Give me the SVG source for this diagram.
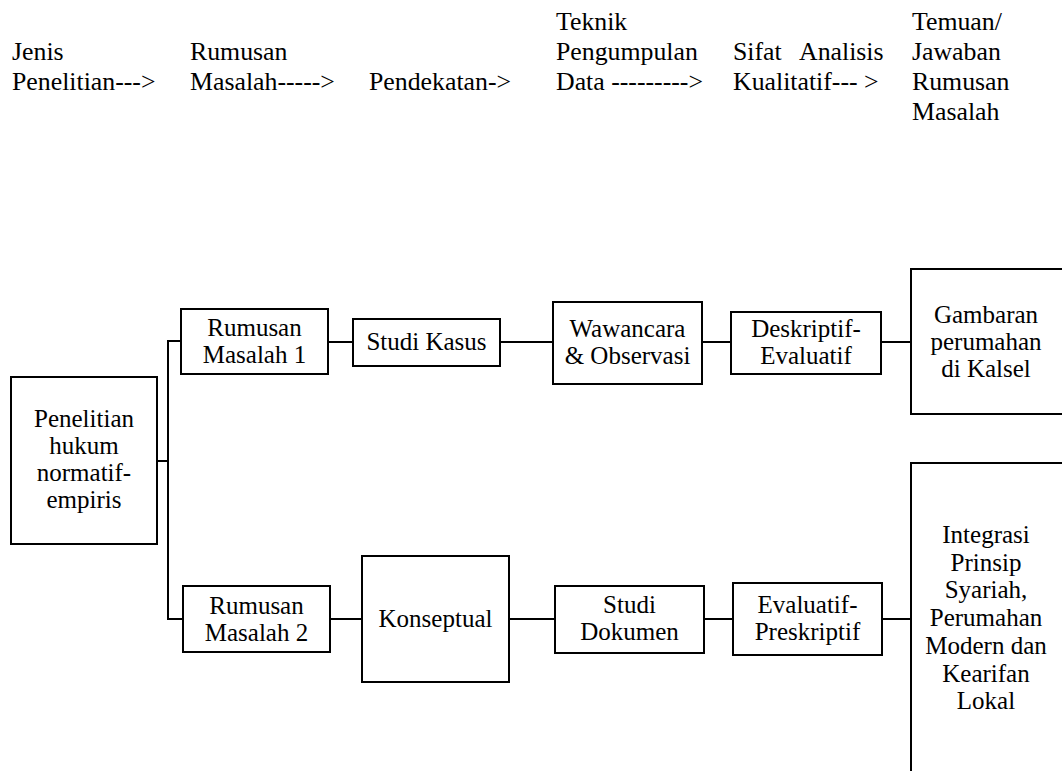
<svg xmlns="http://www.w3.org/2000/svg" width="1062" height="771" viewBox="0 0 1062 771">
<style>
text { font-family: "Liberation Serif", "Times New Roman", serif; fill: #000; }
.h { font-size: 25.8px; }
.b { font-size: 25px; text-anchor: middle; }
rect { fill: #fff; stroke: #000; stroke-width: 2; }
.c line { stroke: #000; stroke-width: 2; }
</style>
<rect x="0" y="0" width="1062" height="771" style="stroke:none;fill:#fff"/>
<g id="header">
<text class="h" x="12" y="60">Jenis</text>
<text class="h" x="12" y="90">Penelitian---&gt;</text>
<text class="h" x="190" y="60">Rumusan</text>
<text class="h" x="190" y="90">Masalah-----&gt;</text>
<text class="h" x="369" y="90">Pendekatan-&gt;</text>
<text class="h" x="556" y="30">Teknik</text>
<text class="h" x="556" y="60">Pengumpulan</text>
<text class="h" x="556" y="90">Data ---------&gt;</text>
<text class="h" x="733" y="60">Sifat</text>
<text class="h" x="799" y="60">Analisis</text>
<text class="h" x="733" y="90">Kualitatif--- &gt;</text>
<text class="h" x="912" y="30">Temuan/</text>
<text class="h" x="912" y="60">Jawaban</text>
<text class="h" x="912" y="90">Rumusan</text>
<text class="h" x="912" y="120">Masalah</text>
</g>
<g class="c" id="connectors">
<line x1="157" y1="461" x2="168" y2="461"/>
<line x1="168" y1="340" x2="168" y2="620"/>
<line x1="167" y1="341" x2="181" y2="341"/>
<line x1="167" y1="619" x2="183" y2="619"/>
<line x1="328" y1="342" x2="353" y2="342"/>
<line x1="500" y1="342" x2="553" y2="342"/>
<line x1="702" y1="342" x2="731" y2="342"/>
<line x1="881" y1="342" x2="911" y2="342"/>
<line x1="330" y1="619" x2="362" y2="619"/>
<line x1="509" y1="619" x2="555" y2="619"/>
<line x1="704" y1="619" x2="733" y2="619"/>
<line x1="882" y1="619" x2="911" y2="619"/>
</g>
<g id="n-penelitian">
<rect x="11" y="377" width="146" height="167"/>
<text class="b" x="84" y="426.5">Penelitian</text>
<text class="b" x="84" y="453.5">hukum</text>
<text class="b" x="84" y="480.5">normatif-</text>
<text class="b" x="84" y="507.5">empiris</text>
</g>
<g id="n-rm1">
<rect x="181" y="309" width="147" height="65"/>
<text class="b" x="254.5" y="336">Rumusan</text>
<text class="b" x="254.5" y="362.7">Masalah 1</text>
</g>
<g id="n-studikasus">
<rect x="353" y="319" width="147" height="47"/>
<text class="b" x="426.5" y="350">Studi Kasus</text>
</g>
<g id="n-wawancara">
<rect x="553" y="302" width="149" height="82"/>
<text class="b" x="627.5" y="336.7">Wawancara</text>
<text class="b" x="627.5" y="364">&amp; Observasi</text>
</g>
<g id="n-deskriptif">
<rect x="731" y="312" width="150" height="62"/>
<text class="b" x="806" y="336.7">Deskriptif-</text>
<text class="b" x="806" y="364">Evaluatif</text>
</g>
<g id="n-gambaran">
<rect x="911" y="269" width="160" height="145"/>
<text class="b" x="986" y="323">Gambaran</text>
<text class="b" x="986" y="350">perumahan</text>
<text class="b" x="986" y="377">di Kalsel</text>
</g>
<g id="n-rm2">
<rect x="183" y="586" width="147" height="66"/>
<text class="b" x="256.5" y="614">Rumusan</text>
<text class="b" x="256.5" y="640.7">Masalah 2</text>
</g>
<g id="n-konseptual">
<rect x="362" y="556" width="147" height="126"/>
<text class="b" x="435.5" y="626.7">Konseptual</text>
</g>
<g id="n-studidokumen">
<rect x="555" y="586" width="149" height="67"/>
<text class="b" x="629.5" y="613.3">Studi</text>
<text class="b" x="629.5" y="640">Dokumen</text>
</g>
<g id="n-evaluatif">
<rect x="733" y="583" width="149" height="72"/>
<text class="b" x="807.5" y="613.3">Evaluatif-</text>
<text class="b" x="807.5" y="640">Preskriptif</text>
</g>
<g id="n-integrasi">
<rect x="911" y="463" width="160" height="320"/>
<text class="b" x="986" y="543">Integrasi</text>
<text class="b" x="986" y="570.7">Prinsip</text>
<text class="b" x="986" y="598.4">Syariah,</text>
<text class="b" x="986" y="626">Perumahan</text>
<text class="b" x="986" y="653.8">Modern dan</text>
<text class="b" x="986" y="681.5">Kearifan</text>
<text class="b" x="986" y="709">Lokal</text>
</g>
</svg>
